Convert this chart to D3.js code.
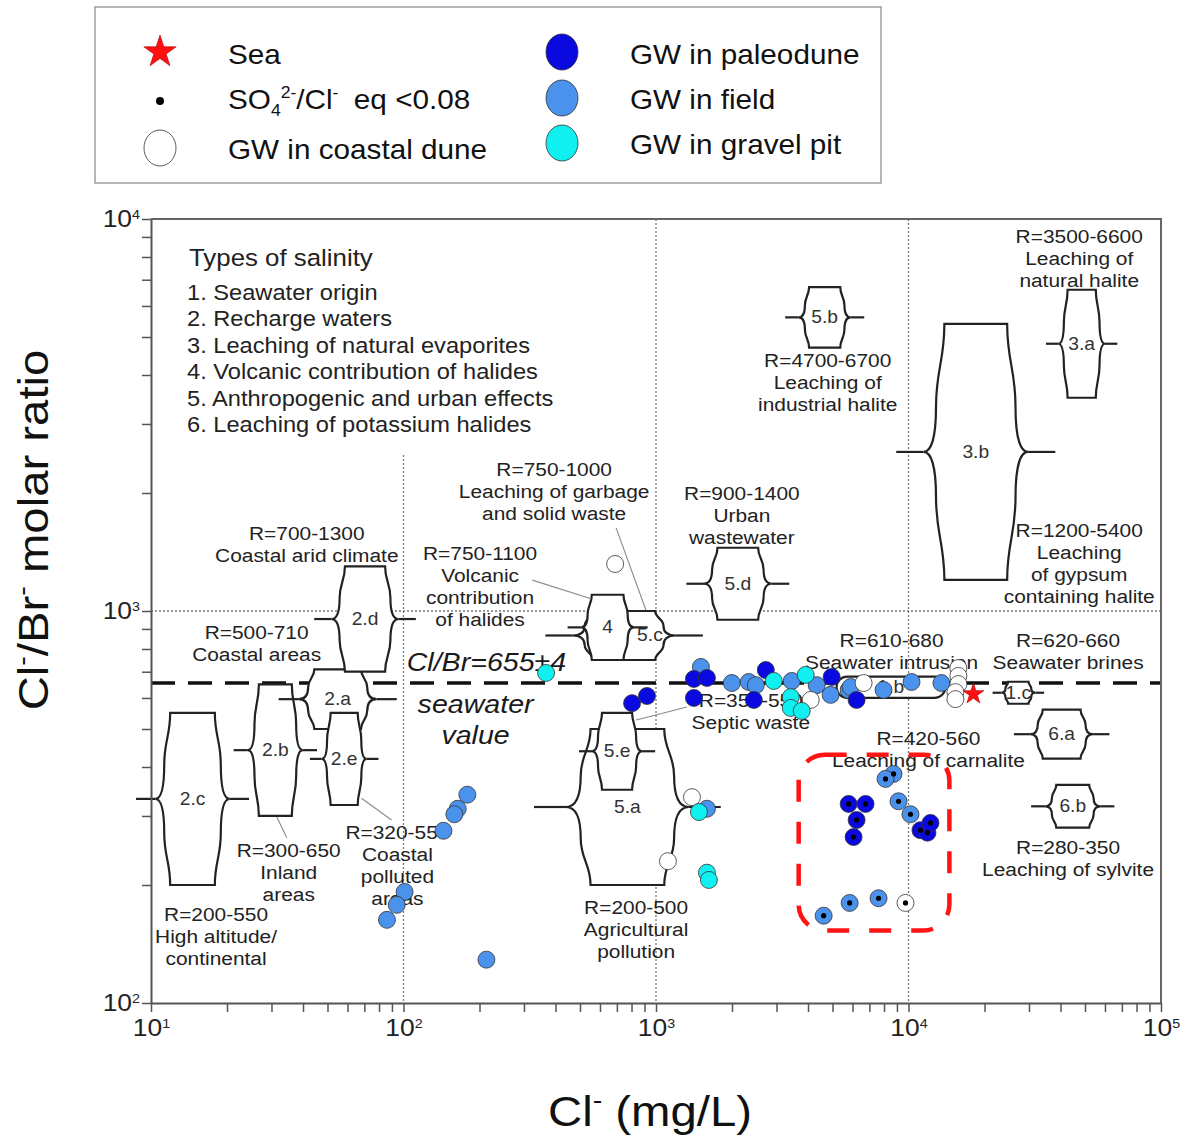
<!DOCTYPE html>
<html>
<head>
<meta charset="utf-8">
<script src="https://cdn.jsdelivr.net/npm/d3@7"></script>
<style>
  body { margin: 0; background: #fff; }
  svg { display: block; font-family: "Liberation Sans", Arial, sans-serif; }
</style>
</head>
<body>
<div id="chart"></div>
<script>
// ---- data (Cl in mg/L, R = Cl/Br molar ratio) ----
const gwField = [
  [179, 340], [164, 313], [159, 303], [144, 275], [101, 192], [94, 178], [86, 163], [213, 129],
  [1506, 720], [1997, 655], [2331, 659], [2485, 647], [3448, 663], [4329, 647], [4917, 611],
  [5794, 629], [5900, 640], [7964, 629], [10280, 659], [13500, 655], [1591, 313],
  [8724, 384, 1], [8110, 373, 1], [9130, 327, 1], [10180, 303, 1], [4613, 167, 1], [5847, 180, 1], [7610, 185, 1]
];
const gwCoastalDune = [
  [689, 1318], [1388, 335], [1115, 230], [4099, 593], [6640, 655],
  [15760, 715], [15760, 683], [15760, 651], [15340, 621], [15340, 596], [9730, 180, 1]
];
const gwPaleodune = [
  [804, 582], [921, 607], [1413, 671], [1591, 675], [1413, 600], [2722, 707], [2440, 593], [4962, 679], [6230, 593],
  [5794, 322, 1], [6761, 322, 1], [6230, 293, 1], [6061, 265, 1], [11150, 276, 1], [11890, 272, 1], [12220, 288, 1]
];
const gwGravelPit = [
  [367, 695], [2927, 663], [3917, 687], [3417, 603], [3417, 566], [3777, 556], [1479, 307], [1591, 215], [1620, 206]
];
const sea = [[18070, 614]];
const seawaterRatio = 655;

// salinity fields: label, Cl low, Cl high, R low, R high
const fields = [
  ["2.c", 10.4, 20.5, 200, 550],
  ["2.b", 24.2, 39.9, 300, 650],
  ["2.a", 38.5, 78.2, 500, 710],
  ["2.d", 51.9, 95.5, 700, 1300],
  ["2.e", 47.4, 71.5, 320, 550],
  ["5.a", 440, 1349, 200, 500],
  ["5.c", 466, 1199, 750, 1000],
  ["4", 506, 818, 750, 1100],
  ["5.e", 558, 881, 350, 550],
  ["5.d", 1549, 2871, 950, 1450],
  ["5.b", 3673, 5902, 4700, 6700],
  ["3.b", 11460, 29760, 1200, 5400],
  ["3.a", 39170, 60100, 3500, 6600],
  ["1.c", 23330, 31780, 580, 660],
  ["6.a", 30340, 53830, 420, 560],
  ["6.b", 34830, 57410, 280, 360]
];
const pill = ["1.b", 5188, 13990, 600, 680];
const labelCl = { "5.c": 946 };

const notes = [
  [["R=700-1300", "Coastal arid climate"], 41.4, 1517],
  [["R=500-710", "Coastal areas"], 26.2, 848],
  [["R=750-1100", "Volcanic", "contribution", "of halides"], 201, 1349],
  [["R=750-1000", "Leaching of garbage", "and solid waste"], 395, 2208],
  [["R=900-1400", "Urban", "wastewater"], 2188, 1919],
  [["R=4700-6700", "Leaching of", "industrial halite"], 4786, 4188],
  [["R=3500-6600", "Leaching of", "natural halite"], 47430, 8690],
  [["R=1200-5400", "Leaching", "of gypsum", "containing halite"], 47430, 1545],
  [["R=610-680", "Seawater intrusion"], 8570, 809],
  [["R=620-660", "Seawater brines"], 42850, 809],
  [["R=350-550", "Septic waste"], 2374, 569],
  [["R=420-560", "Leaching of carnalite"], 11990, 455],
  [["R=280-350", "Leaching of sylvite"], 42850, 240],
  [["R=320-550", "Coastal", "polluted", "areas"], 94.6, 262],
  [["R=300-650", "Inland", "areas"], 35.1, 236],
  [["R=200-550", "High altitude/", "continental"], 18.1, 162],
  [["R=200-500", "Agricultural", "pollution"], 834, 169]
];
const connectors = [
  [31.5, 298, 34.5, 264], [68.2, 333, 89.7, 293], [324, 1199, 553, 1074],
  [695, 1629, 912, 1006], [1326, 569, 834, 527]
];
const highlightBox = [3673, 14520, 153, 430];
const salinityTypes = [
  "1. Seawater origin", "2. Recharge waters", "3. Leaching of natural evaporites",
  "4. Volcanic contribution of halides", "5. Anthropogenic and urban effects",
  "6. Leaching of potassium halides"
];

// ---- layout ----
const W = 1180, H = 1139, SX = 1.1;
const FONT_C = "#222";
const svg = d3.select("#chart").append("svg").attr("width", W).attr("height", H);
svg.append("rect").attr("width", W).attr("height", H).attr("fill", "#fff");

const x = d3.scaleLog().domain([10, 1e5]).range([151, 1161]);
const y = d3.scaleLog().domain([100, 1e4]).range([1003, 219]);

function textBlock(parent, px, py, lines, size, lh, opts = {}) {
  const t = parent.append("text")
    .attr("transform", `translate(${px},${py}) scale(${SX},1)`)
    .attr("text-anchor", opts.anchor || "middle")
    .style("font-size", size + "px")
    .attr("fill", opts.fill || FONT_C);
  if (opts.italic) t.style("font-style", "italic");
  lines.forEach((s, i) => t.append("tspan").attr("x", 0).attr("dy", i === 0 ? 0 : lh).text(s));
  return t;
}

// grid dotted lines
const grid = svg.append("g").attr("stroke", "#777").attr("stroke-width", 1.3).attr("stroke-dasharray", "2,2");
grid.append("line").attr("x1", x(100)).attr("x2", x(100)).attr("y1", y(2500)).attr("y2", y(100));
[1000, 10000].forEach(v => grid.append("line").attr("x1", x(v)).attr("x2", x(v)).attr("y1", y(1e4)).attr("y2", y(100)));
grid.append("line").attr("x1", x(10)).attr("x2", x(1e5)).attr("y1", y(1000)).attr("y2", y(1000));

// seawater line
svg.append("line")
  .attr("x1", x(10)).attr("x2", x(1e5)).attr("y1", y(seawaterRatio)).attr("y2", y(seawaterRatio))
  .attr("stroke", "#111").attr("stroke-width", 3.5).attr("stroke-dasharray", "24,13");

// field shapes
function vase(xL, xR, yT, yB) {
  const w = xR - xL, cx = (xL + xR) / 2, hw = w * 0.3, si = w * 0.12;
  const ym = (yT + yB) / 2, hh = (yB - yT) / 2;
  const rc = Math.min(hh * 0.4, 45), fl = hh - rc;
  const p = d3.path();
  p.moveTo(cx - hw, yT);
  p.lineTo(cx + hw, yT);
  p.bezierCurveTo(cx + hw, yT + fl * 0.45, xR - si, ym - rc - fl * 0.45, xR - si, ym - rc);
  p.bezierCurveTo(xR - si, ym - rc * 0.3, xR - si * 0.6, ym, xR, ym);
  p.bezierCurveTo(xR - si * 0.6, ym, xR - si, ym + rc * 0.3, xR - si, ym + rc);
  p.bezierCurveTo(xR - si, ym + rc + fl * 0.45, cx + hw, yB - fl * 0.45, cx + hw, yB);
  p.lineTo(cx - hw, yB);
  p.bezierCurveTo(cx - hw, yB - fl * 0.45, xL + si, ym + rc + fl * 0.45, xL + si, ym + rc);
  p.bezierCurveTo(xL + si, ym + rc * 0.3, xL + si * 0.6, ym, xL, ym);
  p.bezierCurveTo(xL + si * 0.6, ym, xL + si, ym - rc * 0.3, xL + si, ym - rc);
  p.bezierCurveTo(xL + si, ym - rc - fl * 0.45, cx - hw, yT + fl * 0.45, cx - hw, yT);
  p.closePath();
  return p.toString();
}

const shapes = svg.append("g");
fields.forEach(([name, c0, c1, r0, r1]) => {
  const xL = x(c0), xR = x(c1), yT = y(r1), yB = y(r0), ym = (yT + yB) / 2;
  const tail = (xR - xL) * 0.26;
  const g = shapes.append("g");
  g.append("path").attr("d", vase(xL, xR, yT, yB))
    .attr("fill", "#fff").attr("stroke", "#222").attr("stroke-width", 2.2);
  g.append("line").attr("x1", xL - tail).attr("x2", xL).attr("y1", ym).attr("y2", ym)
    .attr("stroke", "#222").attr("stroke-width", 2.2);
  g.append("line").attr("x1", xR).attr("x2", xR + tail).attr("y1", ym).attr("y2", ym)
    .attr("stroke", "#222").attr("stroke-width", 2.2);
  const lx = labelCl[name] ? x(labelCl[name]) : (xL + xR) / 2;
  textBlock(g, lx, ym + 6, [name], 17.5, 0, { fill: "#333" });
});
{
  const [name, c0, c1, r0, r1] = pill;
  const hgt = y(r0) - y(r1);
  shapes.append("rect").attr("x", x(c0)).attr("y", y(r1)).attr("width", x(c1) - x(c0)).attr("height", hgt)
    .attr("rx", hgt / 2).attr("fill", "#fff").attr("stroke", "#222").attr("stroke-width", 2.2);
  textBlock(shapes, (x(c0) + x(c1)) / 2, (y(r0) + y(r1)) / 2 + 6, [name], 17.5, 0, { fill: "#333" });
}

// connectors
connectors.forEach(([a, b, c, d]) => {
  svg.append("line").attr("x1", x(a)).attr("y1", y(b)).attr("x2", x(c)).attr("y2", y(d))
    .attr("stroke", "#8a8a8a").attr("stroke-width", 1.1);
});

// notes
notes.forEach(([lines, cl, r]) => textBlock(svg, x(cl), y(r), lines, 19, 22));
textBlock(svg, x(213), y(703), ["Cl/Br=655±4"], 26, 0, { italic: true, fill: "#1a1a1a" });
textBlock(svg, x(193), y(550), ["seawater"], 26, 0, { italic: true, fill: "#1a1a1a" });
textBlock(svg, x(193), y(458), ["value"], 26, 0, { italic: true, fill: "#1a1a1a" });

// salinity types box
textBlock(svg, 189, 266, ["Types of salinity"], 23.5, 0, { anchor: "start" });
textBlock(svg, 187, 300, salinityTypes, 21.5, 26.4, { anchor: "start" });

// highlight box
svg.append("rect")
  .attr("x", x(highlightBox[0])).attr("y", y(highlightBox[3]))
  .attr("width", x(highlightBox[1]) - x(highlightBox[0])).attr("height", y(highlightBox[2]) - y(highlightBox[3]))
  .attr("rx", 26).attr("fill", "none").attr("stroke", "#ff1414").attr("stroke-width", 4.5)
  .attr("stroke-dasharray", "22,20");

// axes
const xTicks = [], yTicks = [];
for (let k = 1; k <= 4; k++) for (let m = 1; m <= 9; m++) xTicks.push(m * Math.pow(10, k));
xTicks.push(1e5);
for (let k = 2; k <= 3; k++) for (let m = 1; m <= 9; m++) yTicks.push(m * Math.pow(10, k));
yTicks.push(1e4);
const isPow = d => Math.abs(Math.log10(d) - Math.round(Math.log10(d))) < 1e-9;

function supTicks(g) {
  g.selectAll(".tick text").each(function(d) {
    const t = d3.select(this);
    t.text(null);
    if (!isPow(d)) return;
    t.append("tspan").text("10");
    t.append("tspan").attr("dy", "-0.6em").style("font-size", "13px").text(Math.round(Math.log10(d)));
  });
}

const gx = svg.append("g").attr("transform", `translate(0,${y(100)})`)
  .call(d3.axisBottom(x).tickValues(xTicks).tickSize(9).tickSizeOuter(0).tickPadding(7).tickFormat(() => "x"));
supTicks(gx);
const gy = svg.append("g").attr("transform", `translate(${x(10)},0)`)
  .call(d3.axisLeft(y).tickValues(yTicks).tickSize(9).tickSizeOuter(0).tickPadding(2).tickFormat(() => "x"));
supTicks(gy);
[gx, gy].forEach(g => {
  g.selectAll(".tick text").style("font-size", "24px").attr("fill", FONT_C)
    .attr("transform", `scale(${SX},1)`);
  g.select(".domain").attr("stroke", "#555").attr("stroke-width", 2);
  g.selectAll(".tick line").attr("stroke", "#555").attr("stroke-width", 1.5);
});
gy.selectAll(".tick text").attr("x", -11 / SX);
svg.append("path")
  .attr("d", `M${x(10)},${y(1e4)}H${x(1e5)}V${y(100)}`)
  .attr("fill", "none").attr("stroke", "#666").attr("stroke-width", 2);

// axis titles
const xt = svg.append("text").attr("transform", `translate(650,1126) scale(${SX},1)`)
  .attr("text-anchor", "middle").style("font-size", "43px").attr("fill", "#111");
xt.append("tspan").text("Cl");
xt.append("tspan").attr("dy", -17).style("font-size", "26px").text("-");
xt.append("tspan").attr("dy", 17).text(" (mg/L)");
const yt = svg.append("text").attr("transform", `translate(48,530) rotate(-90) scale(${SX},1)`)
  .attr("text-anchor", "middle").style("font-size", "43px").attr("fill", "#111");
yt.append("tspan").text("Cl");
yt.append("tspan").attr("dy", -17).style("font-size", "26px").text("-");
yt.append("tspan").attr("dy", 17).text("/Br");
yt.append("tspan").attr("dy", -17).style("font-size", "26px").text("-");
yt.append("tspan").attr("dy", 17).text(" molar ratio");

// points
const series = [
  { data: gwField, color: "#4a92ec" },
  { data: gwCoastalDune, color: "#ffffff" },
  { data: gwPaleodune, color: "#0a0ae0" },
  { data: gwGravelPit, color: "#10f0f0" }
];
const pts = svg.append("g");
series.forEach(s => {
  pts.selectAll(null).data(s.data).enter().append("circle")
    .attr("cx", d => x(d[0])).attr("cy", d => y(d[1])).attr("r", 8.5)
    .attr("fill", s.color).attr("stroke", "#333").attr("stroke-width", 0.8);
  pts.selectAll(null).data(s.data.filter(d => d[2])).enter().append("circle")
    .attr("cx", d => x(d[0])).attr("cy", d => y(d[1])).attr("r", 2.6).attr("fill", "#000");
});
const star = d3.symbol(d3.symbolStar, 121 / 0.8908);
svg.selectAll(null).data(sea).enter().append("path")
  .attr("d", star).attr("transform", d => `translate(${x(d[0])},${y(d[1])})`)
  .attr("fill", "#ff1010").attr("stroke", "#a00").attr("stroke-width", 0.6);

// legend
const lg = svg.append("g");
lg.append("rect").attr("x", 95).attr("y", 7).attr("width", 786).attr("height", 176)
  .attr("fill", "#fff").attr("stroke", "#888").attr("stroke-width", 1.2);
lg.append("path").attr("d", d3.symbol(d3.symbolStar, 290 / 0.8908)).attr("transform", "translate(160,52)")
  .attr("fill", "#ff1010").attr("stroke", "#a00").attr("stroke-width", 0.6);
lg.append("circle").attr("cx", 160).attr("cy", 101).attr("r", 4).attr("fill", "#000");
lg.append("ellipse").attr("cx", 160).attr("cy", 148).attr("rx", 16).attr("ry", 18)
  .attr("fill", "#fff").attr("stroke", "#333").attr("stroke-width", 0.8);
[["#0a0ae0", 52], ["#4a92ec", 98], ["#10f0f0", 143]].forEach(([c, cy]) => {
  lg.append("ellipse").attr("cx", 562).attr("cy", cy).attr("rx", 16).attr("ry", 18)
    .attr("fill", c).attr("stroke", "#333").attr("stroke-width", 0.8);
});
textBlock(lg, 228, 64, ["Sea"], 27, 0, { anchor: "start", fill: "#111" });
const so4 = lg.append("text").attr("transform", `translate(228,109) scale(${SX},1)`)
  .style("font-size", "27px").attr("fill", "#111");
so4.append("tspan").text("SO");
so4.append("tspan").attr("dy", 7).style("font-size", "16px").text("4");
so4.append("tspan").attr("dy", -18).style("font-size", "16px").text("2-");
so4.append("tspan").attr("dy", 11).text("/Cl");
so4.append("tspan").attr("dy", -11).style("font-size", "16px").text("-");
so4.append("tspan").attr("dy", 11).attr("dx", 14).text("eq <0.08");
textBlock(lg, 228, 159, ["GW in coastal dune"], 27, 0, { anchor: "start", fill: "#111" });
textBlock(lg, 630, 64, ["GW in paleodune"], 27, 0, { anchor: "start", fill: "#111" });
textBlock(lg, 630, 109, ["GW in field"], 27, 0, { anchor: "start", fill: "#111" });
textBlock(lg, 630, 154, ["GW in gravel pit"], 27, 0, { anchor: "start", fill: "#111" });
</script>
</body>
</html>
